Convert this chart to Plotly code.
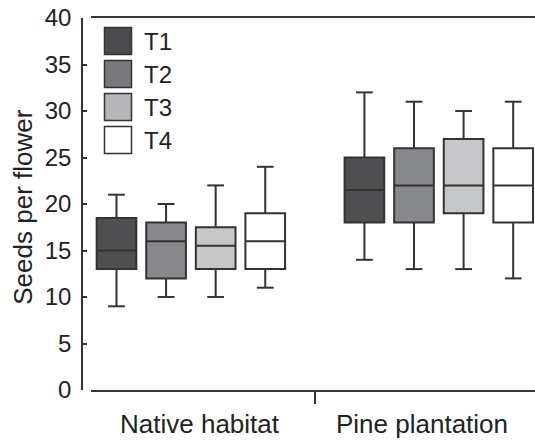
import plotly.graph_objects as go

# ---- data ----
habitats = ["Native habitat", "Pine plantation"]
treatments = ["T1", "T2", "T3", "T4"]
box_positions = [[0, 1, 2, 3], [5, 6, 7, 8]]
label_positions = [1.68, 6.16]
divider_position = [4]

lower = {"T1": [9, 14], "T2": [10, 13], "T3": [10, 13], "T4": [11, 12]}
q1 = {"T1": [13, 18], "T2": [12, 18], "T3": [13, 19], "T4": [13, 18]}
median = {"T1": [15, 21.5], "T2": [16, 22], "T3": [15.5, 22], "T4": [16, 22]}
q3 = {"T1": [18.5, 25], "T2": [18, 26], "T3": [17.5, 27], "T4": [19, 26]}
upper = {"T1": [21, 32], "T2": [20, 31], "T3": [22, 30], "T4": [24, 31]}

y_ticks = [0, 5, 10, 15, 20, 25, 30, 35, 40]

# ---- style ----
fills = {"T1": "#505052", "T2": "#88898d", "T3": "#c6c7c9", "T4": "#ffffff"}
legend_fills = {"T1": "#4b4b4d", "T2": "#78797c", "T3": "#b5b6b9", "T4": "#ffffff"}
edge = "#333333"
txt = "#222222"
font_family = "Liberation Sans, Arial, sans-serif"

W, H = 535, 440
ML, MT, MB = 82, 18, 50
plot_w = W - ML
plot_h = H - MT - MB

fig = go.Figure()

for i, t in enumerate(treatments):
    xs = [box_positions[g][i] for g in range(len(habitats))]
    fig.add_trace(go.Box(
        x=xs, q1=q1[t], median=median[t], q3=q3[t],
        lowerfence=lower[t], upperfence=upper[t],
        width=0.8, fillcolor=fills[t],
        line=dict(color=edge, width=2),
        whiskerwidth=0, boxpoints=False, showlegend=False, name=t,
        hoverinfo="skip",
    ))
    fig.add_trace(go.Scatter(
        x=xs + xs, y=lower[t] + upper[t], mode="markers",
        marker=dict(symbol="line-ew", size=12,
                    line=dict(color=edge, width=2)),
        showlegend=False, hoverinfo="skip",
    ))

def px_x(p):
    return (p - ML) / plot_w

def px_y(p):
    return (H - MB - p) / plot_h

shapes = []
annotations = []
for i, t in enumerate(treatments):
    top = 27.5 + 33 * i
    shapes.append(dict(
        type="rect", xref="paper", yref="paper",
        x0=px_x(104.5), x1=px_x(131.5), y0=px_y(top + 27), y1=px_y(top),
        fillcolor=legend_fills[t], line=dict(color=edge, width=1.5),
    ))
    annotations.append(dict(
        text=t, xref="paper", yref="paper", x=px_x(142), y=px_y(top + 14),
        xanchor="left", yanchor="middle", showarrow=False,
        font=dict(size=24, color=txt, family=font_family),
    ))

for h, pos in zip(habitats, label_positions):
    annotations.append(dict(
        text=h, xref="x", yref="paper", x=pos, y=0, yshift=-34,
        xanchor="center", yanchor="middle", showarrow=False,
        font=dict(size=26, color=txt, family=font_family),
    ))

annotations.append(dict(
    text="Seeds per flower", xref="paper", yref="paper",
    x=px_x(23), y=0.49, textangle=-90, xanchor="center", yanchor="middle",
    showarrow=False, font=dict(size=26, color=txt, family=font_family),
))

fig.update_layout(
    width=W, height=H,
    margin=dict(l=ML, r=0, t=MT, b=MB),
    paper_bgcolor="white", plot_bgcolor="white",
    font=dict(family=font_family, color=txt, size=24),
    shapes=shapes, annotations=annotations,
    xaxis=dict(
        domain=[9 / plot_w, 1], range=[-0.514, 8.44],
        showline=True, linecolor=edge, linewidth=1.5, mirror=True,
        tickvals=divider_position, ticktext=[""], ticks="outside",
        ticklen=12, tickwidth=1.5, tickcolor=edge,
        showgrid=False, zeroline=False,
    ),
    yaxis=dict(
        anchor="free", position=0, range=[0, 40],
        tickvals=y_ticks, ticks="inside", ticklen=4, tickwidth=1.5,
        tickcolor=edge, showline=True, linecolor=edge, linewidth=1.5,
        showgrid=False, zeroline=False, ticklabelstandoff=5,
        tickfont=dict(size=24, color=txt),
    ),
)

fig.write_html(
    "out.html",
    config={"displayModeBar": False},
    post_script="document.body.style.margin='0';document.body.style.overflow='hidden';",
)
